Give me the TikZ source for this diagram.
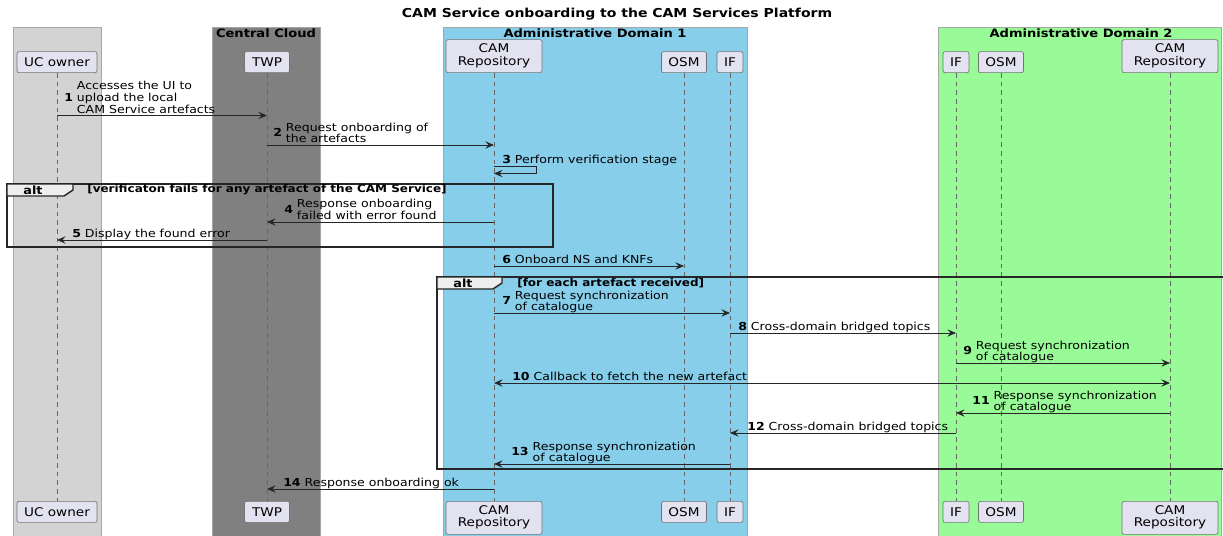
\documentclass[tikz,border=0pt]{standalone}
\usepackage{fontspec}
\setmainfont{DejaVu Sans}
\usepackage{graphicx}
\usetikzlibrary{arrows.meta,calc}
\definecolor{ucgrey}{HTML}{D3D3D3}
\definecolor{ccgrey}{HTML}{808080}
\definecolor{adone}{HTML}{87CEEB}
\definecolor{adtwo}{HTML}{98FB98}
\definecolor{partfill}{HTML}{E2E2F0}
\definecolor{tabfill}{HTML}{EEEEEE}
\newcommand{\sq}[1]{\scalebox{1}[0.88]{#1}}
\newcommand{\mlab}[2]{\sq{\textbf{#1} \begin{tabular}[c]{@{}l@{}}#2\end{tabular}}}
\newcommand{\slab}[2]{\sq{\strut\textbf{#1} #2}}
\newcommand{\twoline}[2]{\sq{\begin{tabular}{@{}c@{}}#1\\#2\end{tabular}}}
\begin{document}
\begin{tikzpicture}[x=0.75pt,y=-0.75pt,
 part/.style={draw=black!55, fill=partfill, line width=0.5pt, rounded corners=1.5pt, inner sep=0pt, align=center, font=\fontsize{10.2}{10.2}\selectfont},
 lifeline/.style={draw=black!60, line width=0.5pt, dash pattern=on 3.5pt off 3pt},
 msg/.style={draw=black!85, line width=0.6pt, -{Stealth[length=6.5pt,width=5.5pt,inset=2.5pt]}},
 bimsg/.style={draw=black!85, line width=0.6pt, {Stealth[length=6.5pt,width=5.5pt,inset=2.5pt]}-{Stealth[length=6.5pt,width=5.5pt,inset=2.5pt]}},
 lbl/.style={inner sep=0pt, anchor=south west, font=\fontsize{9.4}{9}\selectfont},
 dombox/.style={draw=black!35, line width=0.5pt},
 dtitle/.style={font=\bfseries\fontsize{9.8}{11}\selectfont, inner sep=0pt},
 altframe/.style={draw=black!85, line width=1.1pt},
 alttab/.style={draw=black!85, line width=1.1pt, fill=tabfill, line join=miter},
 althead/.style={font=\bfseries\fontsize{9}{10}\selectfont, inner sep=0pt, anchor=west},
 altlbl/.style={font=\bfseries\fontsize{9.6}{11}\selectfont, inner sep=0pt}]
\useasboundingbox (0,0) rectangle (1223,535);
\clip (0,0) rectangle (1223,535);
\fill[white] (0,0) rectangle (1223,535);

% domain boxes
\draw[dombox, fill=ucgrey] (13,27) rectangle (101,545);
\draw[dombox, fill=ccgrey] (212,27) rectangle (320,545);
\draw[dombox, fill=adone] (443,27) rectangle (747,545);
\draw[dombox, fill=adtwo] (938,27) rectangle (1221,545);

\node[font=\bfseries\fontsize{10.5}{12}\selectfont, inner sep=0pt] (title) at (617,14.5) {\sq{CAM Service onboarding to the CAM Services Platform}};
\node[dtitle] (tcc) at (266,33.5) {\sq{Central Cloud}};
\node[dtitle] (tad1) at (595,33.5) {\sq{Administrative Domain 1}};
\node[dtitle] (tad2) at (1081,33.5) {\sq{Administrative Domain 2}};

% participants top
\node[part, minimum width=60pt, minimum height=15.75pt, anchor=south] (uc) at (57,73) {\sq{UC owner}};
\node[part, minimum width=33.75pt, minimum height=15.75pt, anchor=south] (twp) at (267,73) {\sq{TWP}};
\node[part, minimum width=72pt, minimum height=24.75pt, anchor=south] (cr1) at (494,73) {\twoline{CAM}{Repository}};
\node[part, minimum width=33.75pt, minimum height=15.75pt, anchor=south] (osm1) at (684,73) {\sq{OSM}};
\node[part, minimum width=19.5pt, minimum height=15.75pt, anchor=south] (if1) at (730,73) {\sq{IF}};
\node[part, minimum width=19.5pt, minimum height=15.75pt, anchor=south] (if2) at (956,73) {\sq{IF}};
\node[part, minimum width=33.75pt, minimum height=15.75pt, anchor=south] (osm2) at (1001,73) {\sq{OSM}};
\node[part, minimum width=72pt, minimum height=24.75pt, anchor=south] (cr2) at (1170,73) {\twoline{CAM}{Repository}};

% participants bottom
\node[part, minimum width=60pt, minimum height=15.75pt, anchor=north] (ucB) at (57,501) {\sq{UC owner}};
\node[part, minimum width=33.75pt, minimum height=15.75pt, anchor=north] (twpB) at (267,501) {\sq{TWP}};
\node[part, minimum width=72pt, minimum height=24.75pt, anchor=north] (cr1B) at (494,501) {\twoline{CAM}{Repository}};
\node[part, minimum width=33.75pt, minimum height=15.75pt, anchor=north] (osm1B) at (684,501) {\sq{OSM}};
\node[part, minimum width=19.5pt, minimum height=15.75pt, anchor=north] (if1B) at (730,501) {\sq{IF}};
\node[part, minimum width=19.5pt, minimum height=15.75pt, anchor=north] (if2B) at (956,501) {\sq{IF}};
\node[part, minimum width=33.75pt, minimum height=15.75pt, anchor=north] (osm2B) at (1001,501) {\sq{OSM}};
\node[part, minimum width=72pt, minimum height=24.75pt, anchor=north] (cr2B) at (1170,501) {\twoline{CAM}{Repository}};

% lifelines
\foreach \a in {uc,twp,cr1,osm1,if1,if2,osm2,cr2}{\draw[lifeline] (\a.south) -- (\a B.north);}

% alt frames
\draw[altframe] (7,184) rectangle (553,247);
\draw[alttab] (7,184) -- (73,184) -- (73,190) -- (64,196) -- (7,196) -- cycle;
\node[altlbl] (alt1) at (33,190.5) {\sq{alt}};
\node[althead] (alt1h) at (87,190) {\sq{[verificaton fails for any artefact of the CAM Service]}};

\draw[altframe] (437,277) rectangle (1240,469);
\draw[alttab] (437,277) -- (502,277) -- (502,283) -- (493,289) -- (437,289) -- cycle;
\node[altlbl] (alt2) at (463,283.5) {\sq{alt}};
\node[althead] (alt2h) at (517,283) {\sq{[for each artefact received]}};

% rows
\coordinate (r1) at (0,115.5);
\coordinate (r2) at (0,145);
\coordinate (r3a) at (0,166);
\coordinate (r3b) at (0,173.5);
\coordinate (r4) at (0,222);
\coordinate (r5) at (0,240);
\coordinate (r6) at (0,266);
\coordinate (r7) at (0,313);
\coordinate (r8) at (0,333);
\coordinate (r9) at (0,363);
\coordinate (r10) at (0,383);
\coordinate (r11) at (0,413);
\coordinate (r12) at (0,433);
\coordinate (r13) at (0,464);
\coordinate (r14) at (0,489);

% messages
\draw[msg] (uc |- r1) -- (twp |- r1);
\node[lbl] (l1) at ($(uc |- r1)+(7,1)$) {\mlab{1}{Accesses the UI to\\upload the local\\CAM Service artefacts}};

\draw[msg] (twp |- r2) -- (cr1 |- r2);
\node[lbl] (l2) at ($(twp |- r2)+(6,1)$) {\mlab{2}{Request onboarding of\\the artefacts}};

\draw[msg] (cr1 |- r3a) -- ++(42,0) |- (cr1 |- r3b);
\node[lbl] (l3) at ($(cr1 |- r3a)+(8,0.5)$) {\slab{3}{Perform verification stage}};

\draw[msg] (cr1 |- r4) -- (twp |- r4);
\node[lbl] (l4) at ($(twp |- r4)+(17,0.5)$) {\mlab{4}{Response onboarding\\failed with error found}};

\draw[msg] (twp |- r5) -- (uc |- r5);
\node[lbl] (l5) at ($(uc |- r5)+(15,1)$) {\slab{5}{Display the found error}};

\draw[msg] (cr1 |- r6) -- (osm1 |- r6);
\node[lbl] (l6) at ($(cr1 |- r6)+(8,1)$) {\slab{6}{Onboard NS and KNFs}};

\draw[msg] (cr1 |- r7) -- (if1 |- r7);
\node[lbl] (l7) at ($(cr1 |- r7)+(8,1)$) {\mlab{7}{Request synchronization\\of catalogue}};

\draw[msg] (if1 |- r8) -- (if2 |- r8);
\node[lbl] (l8) at ($(if1 |- r8)+(8,1)$) {\slab{8}{Cross-domain bridged topics}};

\draw[msg] (if2 |- r9) -- (cr2 |- r9);
\node[lbl] (l9) at ($(if2 |- r9)+(7,1)$) {\mlab{9}{Request synchronization\\of catalogue}};

\draw[bimsg] (cr1 |- r10) -- (cr2 |- r10);
\node[lbl] (l10) at ($(cr1 |- r10)+(18,1)$) {\slab{10}{Callback to fetch the new artefact}};

\draw[msg] (cr2 |- r11) -- (if2 |- r11);
\node[lbl] (l11) at ($(if2 |- r11)+(16,1)$) {\mlab{11}{Response synchronization\\of catalogue}};

\draw[msg] (if2 |- r12) -- (if1 |- r12);
\node[lbl] (l12) at ($(if1 |- r12)+(17,1)$) {\slab{12}{Cross-domain bridged topics}};

\draw[msg] (if1 |- r13) -- (cr1 |- r13);
\node[lbl] (l13) at ($(cr1 |- r13)+(17,1)$) {\mlab{13}{Response synchronization\\of catalogue}};

\draw[msg] (cr1 |- r14) -- (twp |- r14);
\node[lbl] (l14) at ($(twp |- r14)+(16,1)$) {\slab{14}{Response onboarding ok}};
\end{tikzpicture}
\end{document}
